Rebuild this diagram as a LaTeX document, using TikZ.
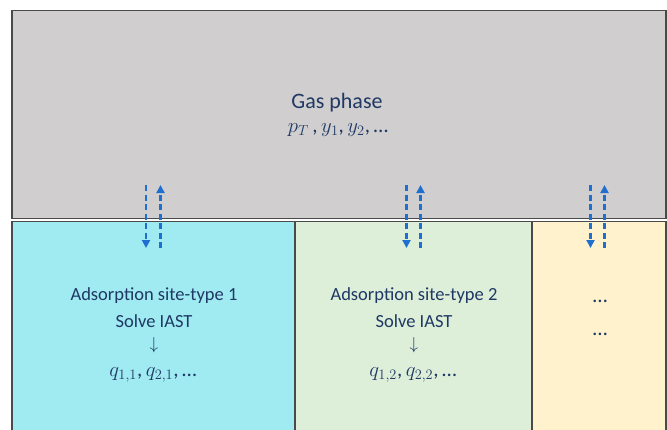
\documentclass[tikz,border=0pt]{standalone}
\usepackage{fontspec}
\setmainfont{Carlito}
\usetikzlibrary{arrows.meta}
\definecolor{gasgray}{HTML}{D0CECE}
\definecolor{siteone}{HTML}{9FEBF1}
\definecolor{sitetwo}{HTML}{DDEFD9}
\definecolor{sitethree}{HTML}{FFF2CC}
\definecolor{txt}{HTML}{1F3864}
\definecolor{arr}{HTML}{1E6FD0}
\definecolor{edge}{HTML}{4A4A4A}
\tikzset{
  region/.style={draw=edge, line width=1.2pt},
  lbl/.style={text=txt, align=center, inner sep=0pt},
  flux/.style={draw=arr, line width=2.3pt, dash pattern=on 6pt off 3.5pt, -{Triangle[length=8pt,width=8pt]}},
}
\newcommand{\ellip}{\text{…}}
\begin{document}
\begin{tikzpicture}[x=1pt,y=-1pt]
\useasboundingbox (0,0) rectangle (667,429);
\begin{scope}
\clip (0,0) rectangle (667,429);
\fill[white] (0,0) rectangle (667,429);
\path[region, fill=gasgray] (12,10.5) rectangle (666,218.3);
\path[region, fill=siteone] (12,221.8) rectangle (295,440);
\path[region, fill=sitetwo] (295,221.8) rectangle (532,440);
\path[region, fill=sitethree] (532,221.8) rectangle (666,440);
\end{scope}
\node[lbl, font=\fontsize{22}{26}\selectfont] (gas) at (337,103) {Gas phase};
\node[lbl, font=\fontsize{21}{24}\selectfont] (gasvars) at (338,130) {$p_T$\,,\,$y_1$,\,$y_2$,\,…};
\node[lbl, font=\fontsize{18.5}{22}\selectfont] (s1a) at (154,296) {Adsorption site-type 1};
\node[lbl, font=\fontsize{18.5}{22}\selectfont] (s1b) at (154,321) {Solve IAST};
\node[lbl, font=\fontsize{19}{22}\selectfont] (s1c) at (154,345) {$\downarrow$};
\node[lbl, font=\fontsize{21}{24}\selectfont] (s1d) at (153,375) {$q_{1,1}$,\,$q_{2,1}$,\,…};
\node[lbl, font=\fontsize{18.5}{22}\selectfont] (s2a) at (414,296) {Adsorption site-type 2};
\node[lbl, font=\fontsize{18.5}{22}\selectfont] (s2b) at (414,321) {Solve IAST};
\node[lbl, font=\fontsize{19}{22}\selectfont] (s2c) at (414,345) {$\downarrow$};
\node[lbl, font=\fontsize{21}{24}\selectfont] (s2d) at (413,375) {$q_{1,2}$,\,$q_{2,2}$,\,…};
\node[lbl, font=\fontsize{21}{24}\selectfont] (s3a) at (600,301) {…};
\node[lbl, font=\fontsize{21}{24}\selectfont] (s3b) at (600,334) {…};
\coordinate (d1t) at (146,185); \coordinate (d1b) at (146,248);
\coordinate (u1t) at (160.5,185); \coordinate (u1b) at (160.5,248);
\coordinate (d2t) at (406.5,185); \coordinate (d2b) at (406.5,248);
\coordinate (u2t) at (420.5,185); \coordinate (u2b) at (420.5,248);
\coordinate (d3t) at (590.5,185); \coordinate (d3b) at (590.5,248);
\coordinate (u3t) at (604.5,185); \coordinate (u3b) at (604.5,248);
\draw[flux] (d1t) -- (d1b);
\draw[flux] (u1b) -- (u1t);
\draw[flux] (d2t) -- (d2b);
\draw[flux] (u2b) -- (u2t);
\draw[flux] (d3t) -- (d3b);
\draw[flux] (u3b) -- (u3t);
\end{tikzpicture}
\end{document}
